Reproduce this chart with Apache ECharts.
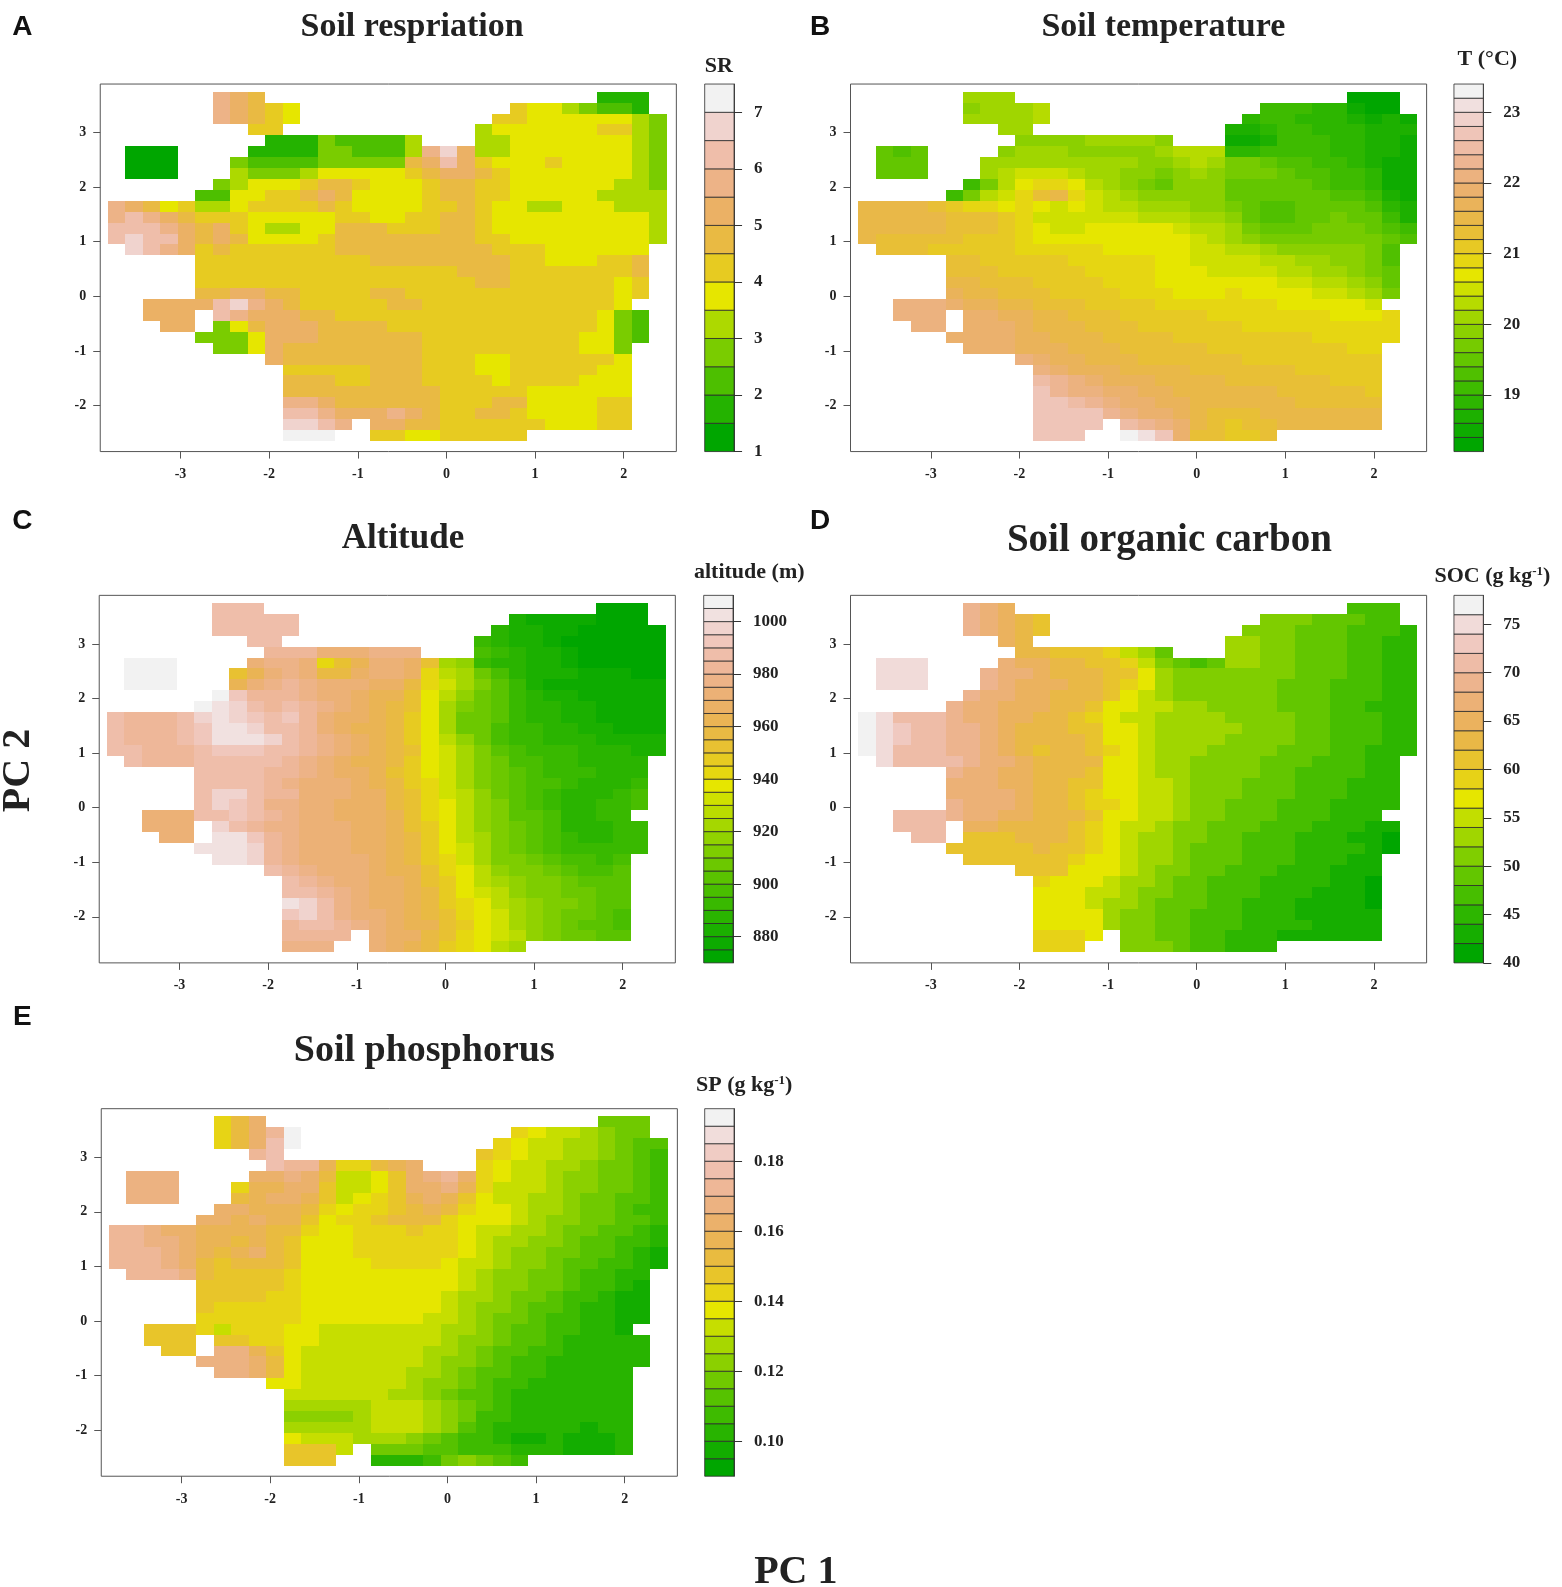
<!DOCTYPE html>
<html>
<head>
<meta charset="utf-8">
<title>PCA surfaces</title>
<script src="https://cdn.jsdelivr.net/npm/echarts@6/dist/echarts.min.js"></script>
<style>
  html, body { margin: 0; background: #fff; }
  #main { width: 1562px; height: 1587px; }
</style>
</head>
<body>
<div id="main"></div>
<script>
// surface cells, one row per PC 2 step (top row first),
// one character per PC 1 step: base-36 contour band number, "." = no data
const cellX0 = -3.72;
const cellDX = 0.197;
const cellY0 = 3.65;
const cellDY = 0.2;

const srRows = [
  ".... ..98 7... .... .... .... .... 111.",
  ".... ..98 765. .... .... ...6 5543 221.",
  ".... ..98 765. .... .... ..66 5555 5543",
  ".... .... 66.. .... .... .455 5555 6643",
  ".... .... .111 3222 24.. .445 5555 5543",
  ".000 .... 1111 3322 249b 8445 5555 5543",
  ".000 ...3 2222 3333 378a 8655 5655 5543",
  ".000 ...4 3334 5555 5678 8765 5555 5543",
  ".... ..34 5556 7765 5567 7665 5555 5443",
  ".... .225 5667 8755 5567 7665 5555 4444",
  "9875 6445 6666 7655 5566 7655 4455 5444",
  "9a98 7666 5555 5665 5667 7655 5555 5554",
  "aaa9 8786 5445 5777 6667 7655 5555 5554",
  "abaa 8787 5555 6777 7777 7665 5555 5554",
  ".ba9 8676 6666 6777 7777 7766 6555 555.",
  ".... .666 6666 6667 7777 7776 6555 667.",
  ".... .666 6666 6666 6666 7776 6666 667.",
  ".... .666 6666 6666 6666 6776 6666 656.",
  ".... .778 8776 6667 7666 6666 6666 656.",
  "..88 88ab 9876 6666 7766 6666 6666 65..",
  "..88 8.a9 8887 7666 6666 6666 6666 532.",
  "...8 8.35 7888 7777 6666 6666 6666 532.",
  ".... .333 5888 7777 7766 6666 6665 532.",
  ".... ..33 5877 7777 7766 6666 6665 53..",
  ".... .... .877 7777 7766 6556 6666 65..",
  ".... .... ..66 6667 7766 6556 6666 55..",
  ".... .... ..77 7667 7766 6656 6665 55..",
  ".... .... ..77 7777 7776 6666 5555 55..",
  ".... .... ..99 8777 7776 6677 5555 66..",
  ".... .... ..aa 9888 9876 6776 5555 66..",
  ".... .... ..bb a9.8 8776 6666 6555 66..",
  ".... .... ..cc c..6 6556 6666 .... ...."
];

const tempRows = [
  ".... ..99 9... .... .... .... .... 000.",
  ".... ..89 99a. .... .... ...4 4433 100.",
  ".... ..99 99a. .... .... ..34 4333 2121",
  ".... .... 99.. .... .... .223 4433 3222",
  ".... .... .888 8999 98.. .112 4443 3221",
  ".656 .... 8999 8888 89aa a334 4443 3221",
  ".666 ...9 9999 9999 889a 9776 5544 3211",
  ".666 ...9 abbb a998 8789 8777 6554 4311",
  ".... ..47 acdd ca98 7688 8666 6654 4311",
  ".... .47a bdfg dba9 8888 8666 6665 5421",
  "gggg fedd cdcb cbaa 9998 8765 5666 6532",
  "gggg gfff edbb bbbb aaa9 9865 5667 6642",
  "gggg gfff edcb bccc ccba a976 6677 7654",
  "gfff ffee edcc cccc cccb a987 7777 7765",
  ".fff eeee eddd ddcc cccb baa9 8888 875.",
  ".... .ffe eeee dddd dccb bbba a998 875.",
  ".... .fff eeee eddd dccc bbbb aa99 876.",
  ".... .ggf ffee eedd dccc cccc bbaa 986.",
  ".... .hgg fffe eeed ddcc cdcc ccbb a97.",
  "..jj jihh ggff feee eddd dddd cccc cb..",
  "..jj j.ii hhgg fffe eeee dddd dddc ccd.",
  "...j j.ii ihgg gfff eeee eedd dddd ddd.",
  ".... .iii ihhg ggff ffee eeee eedd ddd.",
  ".... ..ii ihhh gggf ffff eeee eeee dd..",
  ".... .... .jih hggg ffff ffee eeee ee..",
  ".... .... ..ji hhhg gggf ffff feee ee..",
  ".... .... ..lk jihh hggg gfff fffe ee..",
  ".... .... ..mk jjii hhgg gggg ffff fe..",
  ".... .... ..mm lkji ihhg gggg gfff ff..",
  ".... .... ..mm mmkj iihg fffg gggg gg..",
  ".... .... ..mm mm.l kjig feff gggg gg..",
  ".... .... ..mm m..p omif feef .... ...."
];

const altRows = [
  ".... ..nn n... .... .... .... .... 000.",
  ".... ..nn nnn. .... .... ...2 1111 000.",
  ".... ..nn nnn. .... .... ..32 2110 0000",
  ".... .... nn.. .... .... .432 2100 0000",
  ".... .... .mmm kkkl ll.. .543 2210 0000",
  ".rrr .... kllk egik kjga 9433 2210 0000",
  ".rrr ...g iklk hhjk kjeb a753 2221 1100",
  ".rrr ...i klml kkkj jhec a864 2111 1111",
  ".... ..ro mmml kkji igdb 9764 3221 1111",
  ".... .rqp nmnm lkji hgda 8764 3322 1111",
  "nmmm npqp onom kjji hfda 7764 3322 1111",
  "nmmm noqq pnnm kjii hfda 7754 4332 2111",
  "nmmm noqq qpnm lkji hfdb 9754 4333 2222",
  "nnmm mnoo onnm lkji hgdc a865 4443 3322",
  ".nmm mnnn nnml kjii hfdc a875 5443 333.",
  ".... .nnn nmml kjji gfdc a876 5444 333.",
  ".... .nnn nmlk kkji hfec a876 5543 334.",
  ".... .npp nmmk kkjj hgec b976 5433 345.",
  ".... .npo nllk kjjj hged b986 5433 445.",
  "..kk knno nmlk kjjj iged b986 6533 44..",
  "..kk k.pn mllk kkjj igfd b987 6533 344.",
  "...k k.qq omlk kkjj ihfd ba87 6543 344.",
  ".... .qqq pmlk kkjj ihfd ca87 6544 444.",
  ".... ..qq pmlk kkkj ihfe ca88 7655 45..",
  ".... .... .nml kkkj iige db98 8765 56..",
  ".... .... ..nm lkkj jigf dba9 8876 66..",
  ".... .... ..nn mlkj jihf dcb9 8877 66..",
  ".... .... ..qp nlkj jihf edba 9887 66..",
  ".... .... ..op nlkk jihg edca 9877 65..",
  ".... .... ..mn nmlk jiig fdca 9876 65..",
  ".... .... ..mm mm.k jjhg edcb 9877 66..",
  ".... .... ..ll l..k jihf edba .... ...."
];

const socRows = [
  ".... ..ed c... .... .... .... .... 333.",
  ".... ..ed cba. .... .... ...5 5544 433.",
  ".... ..ed cba. .... .... ..55 5444 3332",
  ".... .... cb.. .... .... .665 5444 3322",
  ".... .... .bba aa97 64.. .665 5444 3322",
  ".hhh .... dccb baa9 7543 4665 5444 3322",
  ".hhh ...e ddcb bbaa 8655 5555 5444 3322",
  ".hhh ...e dccc bba9 8655 5555 4443 3322",
  ".... ..ed dccb bba8 7655 5555 4443 3322",
  ".... .edd cccb ba88 7766 5555 4443 3222",
  "ihff fedd ccbb a987 7666 6555 5443 3322",
  "ihgf feed cbbb aa88 7666 6655 5443 3322",
  "ihgf feed cbbb ba88 7666 6555 5443 3322",
  "ihff feed cbab ba98 7666 5555 4443 3222",
  ".hff ffed dcbb bb88 7665 5554 4433 322.",
  ".... .edd ccbb ba88 7665 5554 4333 322.",
  ".... .ddd ccbb aa88 7765 5544 4333 222.",
  ".... .ddd dcbb a988 7765 5544 4333 222.",
  ".... .edd dcbb a998 7765 5444 3332 222.",
  "..ff fedd ccbb ba88 7765 5444 3332 22..",
  "..ff f.cc bbbb a987 7655 4443 3322 211.",
  "...f f.aa abbb a987 6655 4433 3222 110.",
  ".... .aaa aaba a987 6654 4433 3222 210.",
  ".... ..aa aaaa 9887 6654 4433 3222 11..",
  ".... .... .aaa 8887 6554 4333 2221 11..",
  ".... .... ..98 8876 6544 3332 2221 10..",
  ".... .... ..88 8776 5544 3332 2211 10..",
  ".... .... ..88 8766 5444 3322 2111 10..",
  ".... .... ..88 8865 5443 3322 2111 11..",
  ".... .... ..88 8865 5443 3322 2211 11..",
  ".... .... ..99 98.5 5443 3222 1111 11..",
  ".... .... ..99 9..5 5543 3222 .... ...."
];

const spRows = [
  ".... ..ac e... .... .... .... .... 555.",
  ".... ..ac egk. .... .... ...a 9887 655.",
  ".... ..ac ehk. .... .... ..a9 8877 6544",
  ".... .... gh.. .... .... .ba9 8877 6543",
  ".... .... .hgg daac de.. .a98 8776 5543",
  ".fff .... eefe c889 befg ea98 8766 5543",
  ".fff ...a ddee b889 beef da88 8766 5543",
  ".fff ...c deed b89a bded b988 7765 5443",
  ".... ..ee dddc a9aa bcdc a998 7765 5433",
  ".... .eed eddb 9aab ccca 9998 7665 5443",
  "ggfe eddd dcca 99aa abaa 9887 7655 4432",
  "ggff eddc dcb9 99aa aaaa 9877 6654 4332",
  "gggf edcd ecb9 99aa aaaa 9876 6554 4321",
  "gggf ecbc ccb9 999a aaa9 8876 6544 3321",
  ".ggg fcbb bba9 9999 9999 8766 5543 322.",
  ".... .bbb bba9 9999 9999 8766 5543 321.",
  ".... .bbb baa9 9999 9998 7765 5433 211.",
  ".... .baa aaa9 9999 9998 7665 4432 211.",
  ".... .aaa aaa9 9999 9988 7655 4332 211.",
  "..bb ba8a aa99 8888 8887 7654 4332 21..",
  "..bb b.bb aa99 8888 8887 6654 4322 222.",
  "...b b.ff db98 8888 8877 6544 3322 222.",
  ".... .fff ec98 8888 8876 6543 3222 222.",
  ".... ..ff ec98 8888 8776 5443 3222 22..",
  ".... .... .998 8888 8766 5433 2222 22..",
  ".... .... ..88 8888 7765 4432 2222 22..",
  ".... .... ..77 7778 8876 5432 2222 22..",
  ".... .... ..66 6678 8876 5332 2222 22..",
  ".... .... ..77 7778 8876 4322 2221 22..",
  ".... .... ..98 8877 7654 3321 1211 12..",
  ".... .... ..bb b8.5 5544 3332 2211 12..",
  ".... .... ..bb b..2 2235 6543 .... ...."
];

// contour levels of each colour key: lowest, step, number of bands
const srLevels = [1, 0.5, 13];
const tempLevels = [18.2, 0.2, 26];
const altLevels = [870, 5, 28];
const socLevels = [40, 2, 19];
const spLevels = [0.09, 0.005, 21];

// tick labels
const pc1Ticks = [-3, -2, -1, 0, 1, 2];
const pc2Ticks = [-2, -1, 0, 1, 2, 3];
const srTicks = [1, 2, 3, 4, 5, 6, 7];
const tempTicks = [19, 20, 21, 22, 23];
const altTicks = [880, 900, 920, 940, 960, 980, 1000];
const socTicks = [40, 45, 50, 55, 60, 65, 70, 75];
const spTicks = [0.1, 0.12, 0.14, 0.16, 0.18];

const serif = '"Liberation Serif", "Times New Roman", serif';
const sans = '"Liberation Sans", Arial, sans-serif';

// layout numbers were measured on a view of the figure about 1.25% smaller than the page
const S = 1.0125;

const panels = [
  { letter: "A", lx: 22, ly: 27, title: "Soil respriation", tx: 407, ty: 27, ts: 34,
    key: "SR", kx: 710, ky: 65, rows: srRows, levels: srLevels, ticks: srTicks, digits: 0,
    left: 99, top: 83, barLeft: 696 },
  { letter: "B", lx: 810, ly: 27, title: "Soil temperature", tx: 1149, ty: 27, ts: 34,
    key: "T (°C)", kx: 1469, ky: 59, rows: tempRows, levels: tempLevels, ticks: tempTicks, digits: 0,
    left: 840, top: 83, barLeft: 1436 },
  { letter: "C", lx: 22, ly: 515, title: "Altitude", tx: 398, ty: 532, ts: 35,
    key: "altitude (m)", kx: 740, ky: 565, rows: altRows, levels: altLevels, ticks: altTicks, digits: 0,
    left: 98, top: 588, barLeft: 695 },
  { letter: "D", lx: 810, ly: 515, title: "Soil organic carbon", tx: 1155, ty: 534, ts: 39,
    key: "{t|SOC (g kg}{s|-1}{t|)}", kx: 1474, ky: 569, rows: socRows, levels: socLevels, ticks: socTicks, digits: 0,
    left: 840, top: 588, barLeft: 1436 },
  { letter: "E", lx: 22, ly: 1005, title: "Soil phosphorus", tx: 419, ty: 1038, ts: 38,
    key: "{t|SP (g kg}{s|-1}{t|)}", kx: 735, ky: 1072, rows: spRows, levels: spLevels, ticks: spTicks, digits: 2,
    left: 100, top: 1095, barLeft: 696 }
];

// same ramp as R's terrain.colors(n)
function hsvHex(h, s, v) {
  const f = (n) => {
    const k = (n + h / 60) % 6;
    return Math.round(255 * (v - v * s * Math.max(0, Math.min(k, 4 - k, 1))));
  };
  return "#" + [f(5), f(3), f(1)].map((c) => c.toString(16).padStart(2, "0")).join("");
}

function terrainColors(n) {
  const k = Math.floor(n / 2);
  const out = [];
  for (let i = 0; i < k; i++) {
    const t = i / (k - 1);
    out.push(hsvHex(120 - 60 * t, 1, 0.65 + 0.25 * t));
  }
  for (let i = 1; i <= n - k; i++) {
    const t = i / (n - k);
    out.push(hsvHex(60 - 60 * t, 1 - t, 0.9 + 0.05 * t));
  }
  return out;
}

function cellData(rows, levels) {
  const data = [];
  rows.forEach((row, r) => {
    row.replace(/ /g, "").split("").forEach((ch, c) => {
      if (ch === ".") return;
      const band = parseInt(ch, 36);
      data.push([cellX0 + c * cellDX, cellY0 - r * cellDY, levels[0] + (band + 0.5) * levels[1], band]);
    });
  });
  return data;
}

function cellRenderer(colors) {
  return (params, api) => {
    const x = api.value(0);
    const y = api.value(1);
    const a = api.coord([x - cellDX / 2, y + cellDY / 2]);
    const b = api.coord([x + cellDX / 2, y - cellDY / 2]);
    const x0 = Math.round(a[0]);
    const y0 = Math.round(a[1]);
    return {
      type: "rect",
      shape: { x: x0, y: y0, width: Math.round(b[0]) - x0, height: Math.round(b[1]) - y0 },
      style: { fill: colors[api.value(3)] }
    };
  };
}

function bandRenderer(colors) {
  return (params, api) => {
    const a = api.coord([0, api.value(1)]);
    const b = api.coord([1, api.value(0)]);
    return {
      type: "rect",
      shape: { x: a[0], y: a[1], width: b[0] - a[0], height: b[1] - a[1] },
      style: { fill: colors[api.value(2)], stroke: "#2b2b2b", lineWidth: 0.8 }
    };
  };
}

const PLOT_W = 569 * S;
const PLOT_H = 363 * S;
const axisGrey = "#555";
const tickFont = { fontFamily: serif, fontWeight: "bold", color: "#222" };

const grid = [];
const xAxis = [];
const yAxis = [];
const series = [];
const title = [];

function label(text, x, y, size, family, extra) {
  title.push({
    text: text,
    left: x * S,
    top: y * S,
    padding: 0,
    textAlign: "center",
    textVerticalAlign: "middle",
    textStyle: Object.assign({ fontFamily: family, fontWeight: "bold", fontSize: size, color: "#222" }, extra || {})
  });
}

panels.forEach((p) => {
  const colors = terrainColors(p.levels[2]);
  const bandMax = p.levels[0] + p.levels[1] * p.levels[2];

  label(p.letter, p.lx, p.ly, 28, sans, { color: "#111" });
  label(p.title, p.tx, p.ty, p.ts, serif);
  label(p.key, p.kx, p.ky, 22, serif, {
    rich: {
      t: { fontFamily: serif, fontWeight: "bold", fontSize: 22, color: "#222" },
      s: { fontFamily: serif, fontWeight: "bold", fontSize: 13, color: "#222", padding: [0, 0, 9, 0] }
    }
  });

  // surface
  const gi = grid.length;
  grid.push({ left: p.left * S, top: p.top * S, width: PLOT_W, height: PLOT_H, show: true, borderColor: axisGrey, borderWidth: 1 });
  xAxis.push({
    gridIndex: gi, type: "value", min: -3.906, max: 2.594, splitLine: { show: false },
    axisLine: { show: false, onZero: false },
    axisTick: { customValues: pc1Ticks, length: 7, lineStyle: { color: axisGrey } },
    axisLabel: Object.assign({ customValues: pc1Ticks, fontSize: 14, margin: 16 }, tickFont)
  });
  yAxis.push({
    gridIndex: gi, type: "value", min: -2.845, max: 3.89, splitLine: { show: false },
    axisLine: { show: false, onZero: false },
    axisTick: { customValues: pc2Ticks, length: 7, lineStyle: { color: axisGrey } },
    axisLabel: Object.assign({ customValues: pc2Ticks, fontSize: 14, margin: 14 }, tickFont)
  });
  series.push({
    type: "custom", xAxisIndex: gi, yAxisIndex: gi, clip: true, silent: true,
    renderItem: cellRenderer(colors),
    encode: { x: 0, y: 1 },
    data: cellData(p.rows, p.levels)
  });

  // colour key
  const bi = grid.length;
  grid.push({ left: p.barLeft * S, top: p.top * S, width: 29 * S, height: PLOT_H });
  xAxis.push({ gridIndex: bi, type: "value", min: 0, max: 1, show: false });
  yAxis.push({
    gridIndex: bi, type: "value", position: "right", min: p.levels[0], max: bandMax,
    splitLine: { show: false },
    axisLine: { show: true, onZero: false, lineStyle: { color: "#444" } },
    axisTick: { customValues: p.ticks, length: 8, lineStyle: { color: "#333" } },
    axisLabel: Object.assign({
      customValues: p.ticks, fontSize: 17, margin: 20,
      formatter: (v) => Number(v).toFixed(p.digits)
    }, tickFont)
  });
  series.push({
    type: "custom", xAxisIndex: bi, yAxisIndex: bi, clip: false, silent: true,
    renderItem: bandRenderer(colors),
    encode: { y: [0, 1] },
    data: colors.map((c, i) => [p.levels[0] + i * p.levels[1], p.levels[0] + (i + 1) * p.levels[1], i])
  });
});

label("PC 1", 786, 1553, 40, serif);

const chart = echarts.init(document.getElementById("main"), null, { renderer: "canvas" });
chart.setOption({
  animation: false,
  backgroundColor: "#fff",
  title: title,
  grid: grid,
  xAxis: xAxis,
  yAxis: yAxis,
  series: series,
  graphic: [{
    type: "text",
    x: 18 * S,
    y: 761 * S,
    rotation: Math.PI / 2,
    style: { text: "PC 2", fontFamily: serif, fontWeight: "bold", fontSize: 40, fill: "#222", align: "center", verticalAlign: "middle" }
  }]
});
</script>
</body>
</html>
